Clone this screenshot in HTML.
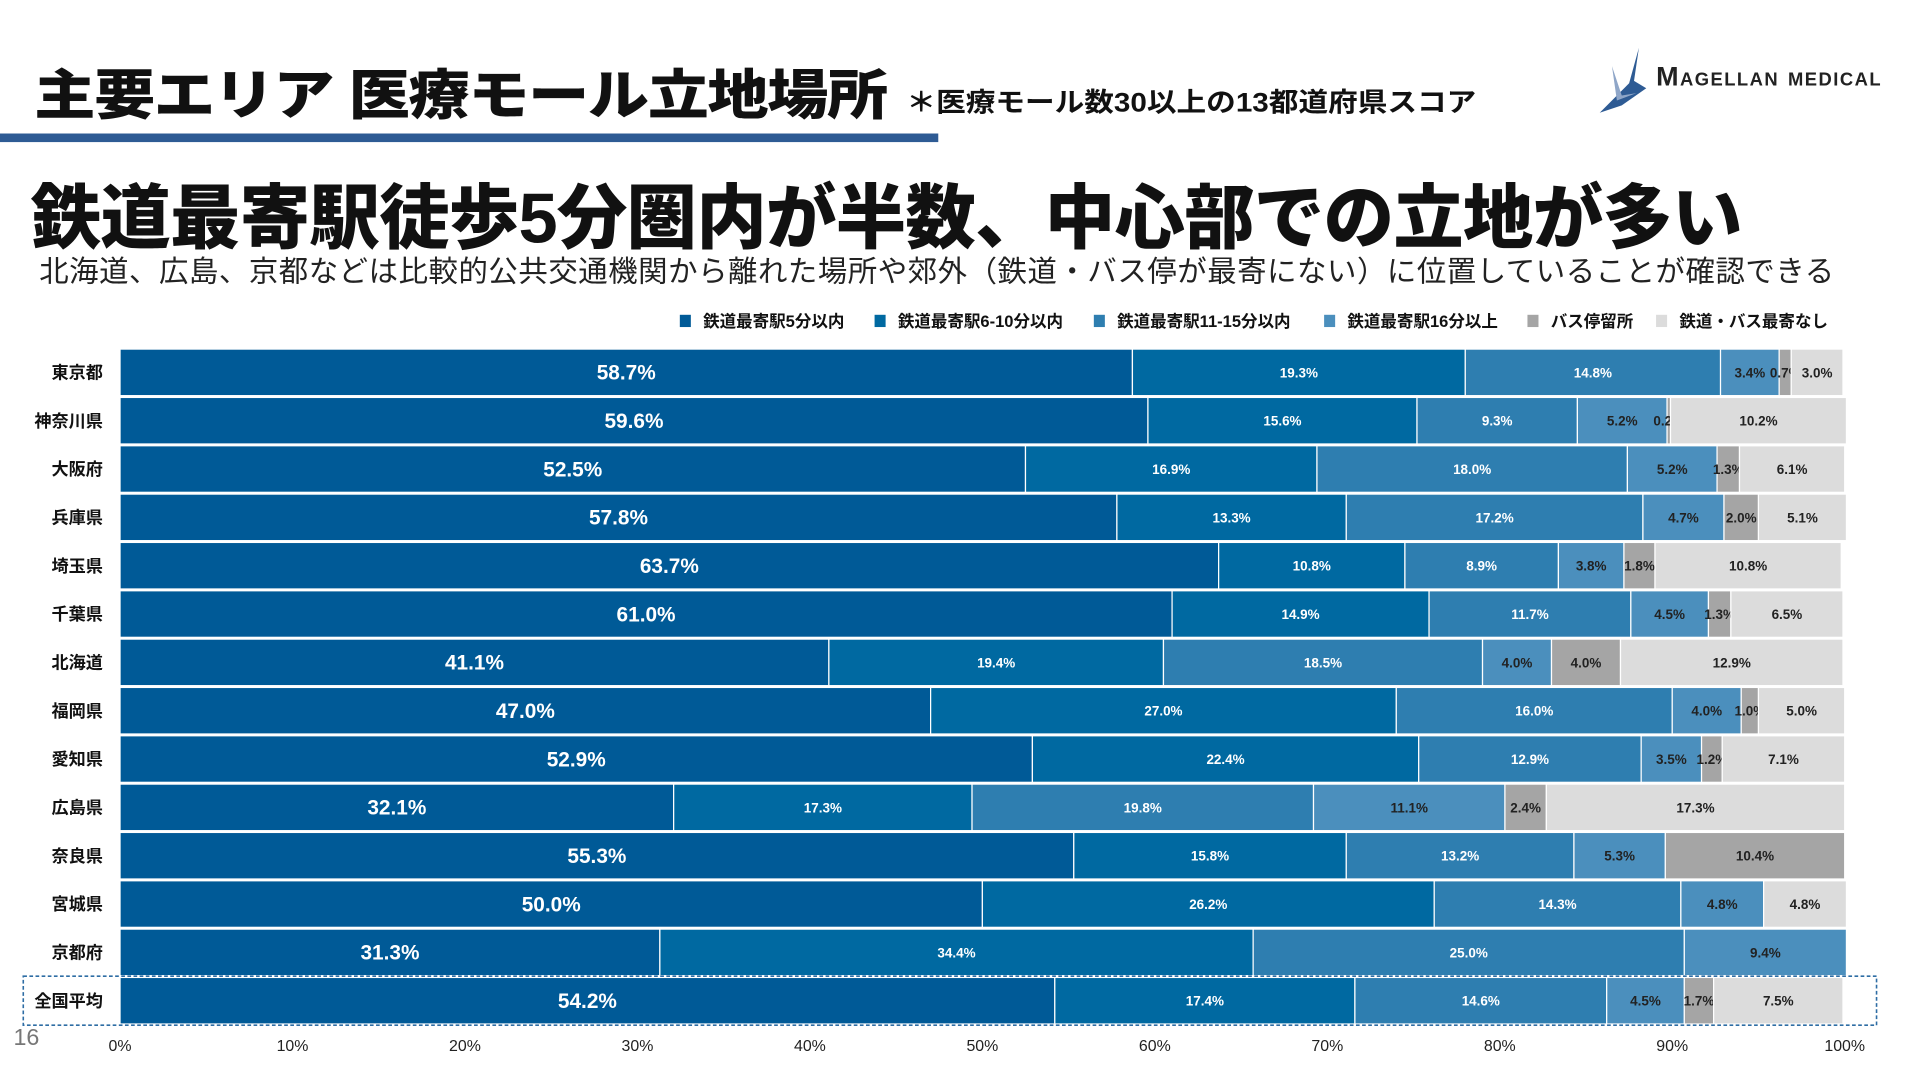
<!DOCTYPE html>
<html lang="ja"><head><meta charset="utf-8">
<style>
html,body{margin:0;padding:0;background:#fff;width:1920px;height:1080px;overflow:hidden}
#wrap{position:absolute;left:0;top:0;width:1568px;height:882px;transform:scale(1.2249);transform-origin:0 0;font-family:"Liberation Sans","Noto Sans CJK JP",sans-serif}
.abs{position:absolute;white-space:nowrap}
</style></head><body>
<div id="wrap">
<div class="abs" style="left:28px;top:42px;font-size:44px;font-weight:900;color:#111;letter-spacing:-1px;transform:scaleX(1.135);transform-origin:0 0">主要エリア 医療モール立地場所</div>
<div class="abs" style="left:740px;top:66px;font-size:22px;font-weight:700;color:#111;transform:scaleX(1.1);transform-origin:0 0">＊医療モール数30以上の13都道府県スコア</div>
<div class="abs" style="left:0;top:109px;width:766px;height:7px;background:#2e5b94"></div>
<div class="abs" style="left:1304px;top:38px;width:260px;height:56px">
<svg width="60" height="56"><polygon points="34,1 26,30 2,54 20,48 40,34 30,28" fill="#2e5b94"/><polygon points="12,16 16,44 32,38 20,40" fill="#8fa6c8"/></svg>
<span class="abs" style="left:48px;top:12px;font-size:22px;font-weight:700;color:#222;font-variant:small-caps;letter-spacing:1.2px">Magellan medical</span>
</div>
<div class="abs" style="left:25px;top:131px;font-size:57.5px;font-weight:900;color:#111;letter-spacing:-0.6px">鉄道最寄駅徒歩5分圏内が半数、中心部での立地が多い</div>
<div class="abs" style="left:32px;top:202px;font-size:24px;color:#222;letter-spacing:0.45px">北海道、広島、京都などは比較的公共交通機関から離れた場所や郊外（鉄道・バス停が最寄にない）に位置していることが確認できる</div>
<svg id="chart" class="abs" style="left:0;top:0" width="1568" height="882"></svg>
<div class="abs" style="left:11px;top:837px;font-size:19px;color:#777">16</div>
</div>
<script>
const categories=["東京都","神奈川県","大阪府","兵庫県","埼玉県","千葉県","北海道","福岡県","愛知県","広島県","奈良県","宮城県","京都府","全国平均"];
const seriesNames=["鉄道最寄駅5分以内","鉄道最寄駅6-10分以内","鉄道最寄駅11-15分以内","鉄道最寄駅16分以上","バス停留所","鉄道・バス最寄なし"];
const s5min=[58.7,59.6,52.5,57.8,63.7,61.0,41.1,47.0,52.9,32.1,55.3,50.0,31.3,54.2];
const s10min=[19.3,15.6,16.9,13.3,10.8,14.9,19.4,27.0,22.4,17.3,15.8,26.2,34.4,17.4];
const s15min=[14.8,9.3,18.0,17.2,8.9,11.7,18.5,16.0,12.9,19.8,13.2,14.3,25.0,14.6];
const s16min=[3.4,5.2,5.2,4.7,3.8,4.5,4.0,4.0,3.5,11.1,5.3,4.8,9.4,4.5];
const sBus=[0.7,0.2,1.3,2.0,1.8,1.3,4.0,1.0,1.2,2.4,10.4,0,0,1.7];
const sNone=[3.0,10.2,6.1,5.1,10.8,6.5,12.9,5.0,7.1,17.3,0,4.8,0,7.5];
const xTicks=[0,10,20,30,40,50,60,70,80,90,100];
const colors=["#005a97","#0069a1","#2e7eb0","#4b8fbd","#a5a5a5","#dcdcdc"];
const textColors=["#fff","#fff","#fff","#222","#222","#222"];
const NS="http://www.w3.org/2000/svg";
const svg=document.getElementById('chart');
const X0=98,X1=1506,Y0=285,PITCH=39.46,BH=38;
const xs=v=>X0+v/100*(X1-X0);
const yRow=i=>Y0+i*PITCH;
function mk(tag,attrs){const e=document.createElementNS(NS,tag);for(const k in attrs)e.setAttribute(k,attrs[k]);svg.appendChild(e);return e;}
const allSeries=[s5min,s10min,s15min,s16min,sBus,sNone];
categories.forEach((c,i)=>{
  const y=yRow(i);
  const lab=mk('text',{x:84,y:y+BH/2+5,'text-anchor':'end','font-size':14,'font-weight':700,fill:'#111'});
  
  
  lab.textContent=c;
  let acc=0;
  allSeries.forEach((s,k)=>{
    const v=s[i];if(!v)return;
    const r=mk('rect',{x:xs(acc),y:y,width:xs(acc+v)-xs(acc),height:BH,fill:colors[k],stroke:'#fff','stroke-width':1});
    
    
    const t=mk('text',{x:(xs(acc)+xs(acc+v))/2,y:y+BH/2+(k===0?6:4),'text-anchor':'middle','font-size':k===0?17:11,'font-weight':700,fill:textColors[k]});
    
    
    t.textContent=v.toFixed(1)+'%';
    acc+=v;
  });
});
const hl=mk('rect',{x:19,y:yRow(13)-1,width:1513,height:BH+2,fill:'none',stroke:'#2e6da4','stroke-width':1.3,'stroke-dasharray':'3,2'});


xTicks.forEach(t=>{
  const e=mk('text',{x:xs(t),y:858,'text-anchor':'middle','font-size':13,fill:'#222'});
  
  
  e.textContent=t+'%';
});
const legendX=[555,714,893,1081,1247,1352];
seriesNames.forEach((n,k)=>{
  const sq=mk('rect',{x:legendX[k],y:257,width:9,height:10,fill:colors[k]});
  
  
  const t=mk('text',{x:legendX[k]+19,y:267,'font-size':13.5,'font-weight':700,fill:'#111'});
  
  
  t.textContent=n;
});
</script>
</body></html>
